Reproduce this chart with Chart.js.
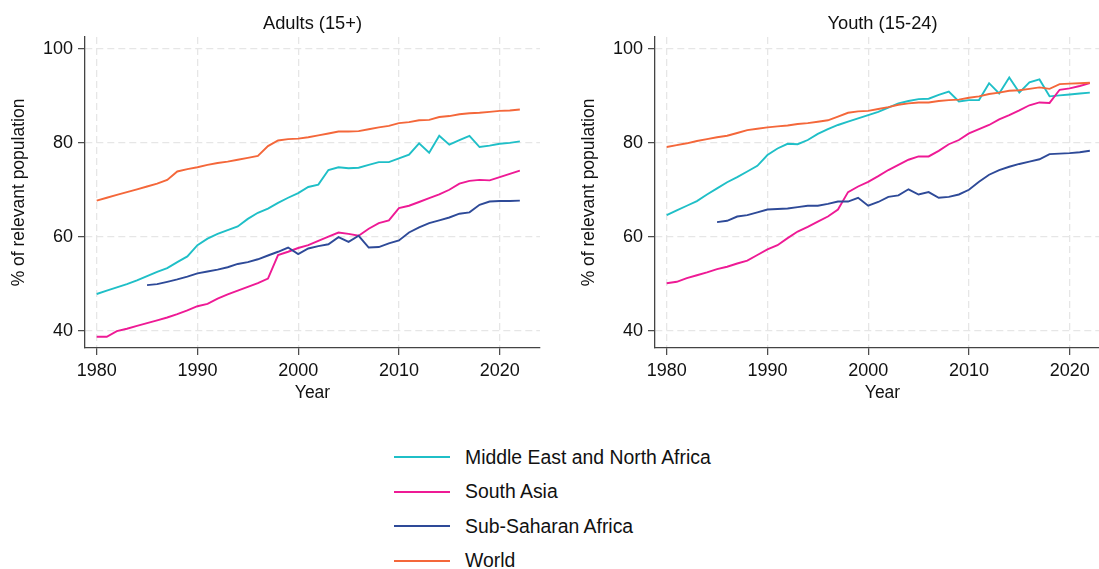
<!DOCTYPE html>
<html>
<head>
<meta charset="utf-8">
<script src="https://cdn.jsdelivr.net/npm/chart.js@4.4.1/dist/chart.umd.min.js"></script>
<style>
    html, body {
        margin: 0;
        padding: 0;
        background: #fff;
        overflow: hidden;
    }
    body {
        position: relative;
        width: 1099px;
        height: 569px;
        font-family: 'Liberation Sans', Arial, Helvetica, sans-serif;
        color: #111;
    }
    canvas {
        position: absolute;
        top: 0;
    }
    #grafica-adultos { left: 0; }
    #grafica-jovenes { left: 570px; }
    #leyenda {
        position: absolute;
        left: 394px;
        top: 440px;
    }
    .fila {
        height: 34.5px;
        display: flex;
        align-items: center;
        font-size: 19.4px;
        white-space: nowrap;
    }
    .trazo {
        display: inline-block;
        width: 56px;
        height: 2px;
        margin-right: 15px;
    }
</style>
</head>
<body>
<canvas id="grafica-adultos" width="545" height="410"></canvas>
<canvas id="grafica-jovenes" width="545" height="410"></canvas>
<div id="leyenda"></div>

<script>
var YEARS = [
    1980, 1981, 1982, 1983, 1984, 1985, 1986, 1987, 1988, 1989,
    1990, 1991, 1992, 1993, 1994, 1995, 1996, 1997, 1998, 1999,
    2000, 2001, 2002, 2003, 2004, 2005, 2006, 2007, 2008, 2009,
    2010, 2011, 2012, 2013, 2014, 2015, 2016, 2017, 2018, 2019,
    2020, 2021, 2022,
];

var SERIES_NAMES = ['Middle East and North Africa', 'South Asia', 'Sub-Saharan Africa', 'World'];

var X_TICKS = [1980, 1990, 2000, 2010, 2020];
var Y_TICKS = [40, 60, 80, 100];

// Adults (15+)
var ADULTS_MENA = [
    47.8, 48.5, 49.2, 49.9, 50.7, 51.6, 52.5, 53.3, 54.6, 55.8,
    58.2, 59.6, 60.6, 61.4, 62.2, 63.8, 65.1, 66.0, 67.2, 68.3,
    69.3, 70.6, 71.1, 74.2, 74.8, 74.6, 74.7, 75.3, 75.9, 75.9,
    76.7, 77.5, 79.9, 77.9, 81.5, 79.6, 80.6, 81.5, 79.1, 79.4,
    79.8, 80.0, 80.3,
];
var ADULTS_SOUTH_ASIA = [
    38.7, 38.7, 39.9, 40.4, 41.0, 41.6, 42.2, 42.8, 43.5, 44.3,
    45.2, 45.7, 46.8, 47.7, 48.5, 49.3, 50.1, 51.1, 56.1, 56.8,
    57.6, 58.2, 59.1, 60.0, 60.9, 60.6, 60.2, 61.7, 62.9, 63.5,
    66.1, 66.6, 67.4, 68.2, 69.0, 70.0, 71.3, 71.9, 72.1, 72.0,
    72.7, 73.4, 74.1,
];
var ADULTS_SSA = [
    null, null, null, null, null, 49.7, 49.9, 50.4, 50.9, 51.5,
    52.2, 52.6, 53.0, 53.5, 54.2, 54.6, 55.2, 56.0, 56.8, 57.7,
    56.3, 57.5, 58.0, 58.4, 59.9, 58.9, 60.2, 57.7, 57.8, 58.6,
    59.2, 60.9, 62.0, 62.9, 63.5, 64.1, 64.9, 65.2, 66.8, 67.5,
    67.6, 67.6, 67.7,
];
var ADULTS_WORLD = [
    67.7, 68.3, 68.9, 69.5, 70.1, 70.7, 71.3, 72.1, 73.9, 74.4,
    74.8, 75.3, 75.7, 76.0, 76.4, 76.8, 77.2, 79.3, 80.5, 80.8,
    80.9, 81.2, 81.6, 82.0, 82.4, 82.4, 82.5, 82.9, 83.3, 83.6,
    84.2, 84.4, 84.8, 84.9, 85.5, 85.7, 86.1, 86.3, 86.4, 86.6,
    86.8, 86.9, 87.1,
];

// Youth (15-24)
var YOUTH_MENA = [
    64.6, 65.6, 66.6, 67.6, 69.0, 70.3, 71.6, 72.7, 73.9, 75.1,
    77.4, 78.8, 79.8, 79.7, 80.6, 81.9, 82.9, 83.8, 84.5, 85.2,
    85.9, 86.6, 87.5, 88.4, 88.9, 89.3, 89.4, 90.2, 90.9, 88.8,
    89.1, 89.1, 92.7, 90.5, 93.9, 90.7, 92.9, 93.5, 89.9, 90.1,
    90.3, 90.5, 90.7,
];
var YOUTH_SOUTH_ASIA = [
    50.1, 50.4, 51.2, 51.8, 52.4, 53.1, 53.6, 54.3, 54.9, 56.1,
    57.3, 58.2, 59.7, 61.1, 62.1, 63.2, 64.3, 65.8, 69.5, 70.7,
    71.7, 72.9, 74.2, 75.3, 76.4, 77.1, 77.1, 78.3, 79.7, 80.6,
    82.0, 82.9, 83.8, 85.0, 85.9, 86.9, 88.0, 88.6, 88.5, 91.3,
    91.6, 92.1, 92.7,
];
var YOUTH_SSA = [
    null, null, null, null, null, 63.1, 63.4, 64.3, 64.6, 65.2,
    65.8, 65.9, 66.0, 66.3, 66.6, 66.6, 67.0, 67.5, 67.5, 68.3,
    66.6, 67.4, 68.5, 68.8, 70.1, 69.0, 69.5, 68.3, 68.5, 69.0,
    70.0, 71.7, 73.2, 74.2, 74.9, 75.5, 76.0, 76.5, 77.6, 77.7,
    77.8, 78.0, 78.3,
];
var YOUTH_WORLD = [
    79.1, 79.5, 79.9, 80.4, 80.8, 81.2, 81.5, 82.1, 82.7, 83.0,
    83.3, 83.5, 83.7, 84.0, 84.2, 84.5, 84.8, 85.6, 86.4, 86.7,
    86.8, 87.2, 87.6, 88.1, 88.4, 88.6, 88.6, 88.9, 89.1, 89.2,
    89.6, 89.9, 90.4, 90.7, 91.1, 91.2, 91.5, 91.8, 91.5, 92.5,
    92.6, 92.7, 92.8,
];

(function () {
    var COLORES = ['#1fbfc7', '#ee1a95', '#2e4a98', '#f4673a'];
    var EJE = '#444';
    var REJILLA = '#e6e6e6';

    Chart.defaults.font.family = "'Liberation Sans', Arial, Helvetica, sans-serif";
    Chart.defaults.color = '#111';

    function puntos(valores) {
        return YEARS.map(function (anio, i) {
            return {x: anio, y: valores[i]};
        });
    }

    function fijarTicks(lista) {
        return function (scale) {
            scale.ticks = lista.map(function (v) {
                return {value: v};
            });
        };
    }

    function dibujarPanel(canvasId, titulo, series) {
        var canvas = document.getElementById(canvasId);

        return new Chart(canvas, {
            type: 'line',
            data: {
                datasets: series.map(function (valores, i) {
                    return {
                        label: SERIES_NAMES[i],
                        data: puntos(valores),
                        borderColor: COLORES[i],
                        backgroundColor: COLORES[i],
                        borderWidth: 1.9,
                        pointRadius: 0,
                        tension: 0,
                        spanGaps: false,
                        order: series.length - i,
                    };
                }),
            },
            options: {
                responsive: false,
                animation: false,
                layout: {padding: {top: 0, right: 5, bottom: 0, left: 0}},
                plugins: {
                    legend: {display: false},
                    tooltip: {enabled: false},
                    title: {
                        display: true,
                        text: titulo,
                        fullSize: false,
                        color: '#111',
                        font: {size: 18.3, weight: 'normal'},
                        padding: {top: 13.4, bottom: 1.6},
                    },
                },
                scales: {
                    x: {
                        type: 'linear',
                        min: 1978.84,
                        max: 2024,
                        afterBuildTicks: fijarTicks(X_TICKS),
                        afterFit: function (scale) {
                            scale.height = 62;
                        },
                        grid: {
                            color: REJILLA, lineWidth: 1.3,
                            drawTicks: true, tickLength: 7, tickColor: EJE, tickWidth: 1.2,
                        },
                        border: {color: EJE, width: 1.3, dash: [7, 4]},
                        ticks: {
                            font: {size: 18},
                            padding: 5,
                            maxRotation: 0,
                            callback: function (v) {
                                return String(v);
                            },
                        },
                        title: {
                            display: true,
                            text: 'Year',
                            font: {size: 17.5},
                            padding: {top: 0, bottom: 6},
                        },
                    },
                    y: {
                        min: 36.3,
                        max: 102.55,
                        afterBuildTicks: fijarTicks(Y_TICKS),
                        afterFit: function (scale) {
                            scale.width = 85;
                        },
                        grid: {
                            color: REJILLA, lineWidth: 1.3,
                            drawTicks: true, tickLength: 7, tickColor: EJE, tickWidth: 1.2,
                        },
                        border: {color: EJE, width: 1.3, dash: [7, 4]},
                        ticks: {
                            font: {size: 18},
                            padding: 5,
                            callback: function (v) {
                                return String(v);
                            },
                        },
                        title: {
                            display: true,
                            text: '% of relevant population',
                            font: {size: 17.5},
                            padding: {top: 9, bottom: 0},
                        },
                    },
                },
            },
        });
    }

    dibujarPanel('grafica-adultos', 'Adults (15+)',
        [ADULTS_MENA, ADULTS_SOUTH_ASIA, ADULTS_SSA, ADULTS_WORLD]);
    dibujarPanel('grafica-jovenes', 'Youth (15-24)',
        [YOUTH_MENA, YOUTH_SOUTH_ASIA, YOUTH_SSA, YOUTH_WORLD]);

    // Leyenda compartida debajo de los dos paneles
    var leyenda = document.getElementById('leyenda');

    SERIES_NAMES.forEach(function (nombre, i) {
        var fila = document.createElement('div');
        var trazo = document.createElement('span');
        var texto = document.createElement('span');

        fila.className = 'fila';
        trazo.className = 'trazo';
        trazo.style.background = COLORES[i];
        texto.textContent = nombre;

        fila.appendChild(trazo);
        fila.appendChild(texto);
        leyenda.appendChild(fila);
    });
})();
</script>
</body>
</html>
